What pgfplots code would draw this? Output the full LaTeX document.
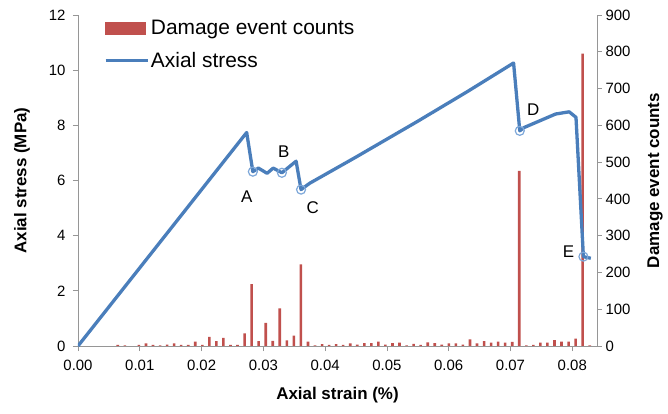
\documentclass[border=0pt]{standalone}
\usepackage{fontspec}
\setmainfont{Liberation Sans}
\usepackage{pgfplots}
\pgfplotsset{compat=1.18}
\usepackage{pgfplotstable}

\definecolor{barred}{HTML}{C0504D}
\definecolor{lineblue}{HTML}{4A7EBB}
\definecolor{circblue}{HTML}{7DA7D9}
\definecolor{axgray}{HTML}{969696}

\pgfplotstableread{
x y
0.00644 3
0.00758 2
0.00986 3
0.01100 7
0.01214 3
0.01328 2
0.01442 4
0.01556 7
0.01670 3
0.01784 3
0.01898 12
0.02012 3
0.02126 25
0.02240 13
0.02354 22
0.02468 3
0.02582 3
0.02696 34
0.02810 168
0.02924 13
0.03038 63
0.03152 14
0.03266 102
0.03380 15
0.03494 28
0.03608 222
0.03722 12
0.03836 2
0.03950 5
0.04064 3
0.04178 5
0.04292 3
0.04406 7
0.04520 4
0.04634 8
0.04748 8
0.04862 12
0.04976 4
0.05090 8
0.05204 9
0.05318 2
0.05432 6
0.05546 3
0.05660 10
0.05774 8
0.05888 4
0.06002 7
0.06116 7
0.06230 4
0.06344 18
0.06458 7
0.06572 13
0.06686 9
0.06800 12
0.06914 9
0.07028 11
0.07142 476
0.07256 2
0.07370 3
0.07484 9
0.07598 9
0.07712 16
0.07826 12
0.07940 12
0.08054 20
0.08168 795
0.08282 2
}\bars

\pgfplotstableread{
x y
0 0
0.0273 7.74
0.0283 6.32
0.0292 6.45
0.0306 6.26
0.0316 6.45
0.0330 6.28
0.0353 6.70
0.0361 5.67
0.0375 5.90
0.0450 6.85
0.0550 8.15
0.0630 9.22
0.0705 10.26
0.0715 7.80
0.0722 7.92
0.0773 8.41
0.0795 8.49
0.0806 8.29
0.0818 3.24
0.0830 3.18
}\stress

\pgfplotstableread{
x y
0.0283 6.32
0.0330 6.28
0.0361 5.67
0.0715 7.80
0.0818 3.24
}\points

\pgfplotsset{
  common/.style={
    width=519bp, height=331bp, scale only axis,
    at={(0,0)}, anchor=south west,
    xmin=0, xmax=0.0840,
    tick align=outside,
    major tick length=5bp,
    every tick/.style={axgray, line width=0.8bp},
    axis line style={axgray, line width=0.8bp},
    tick label style={font=\fontsize{15}{15}\selectfont, black},
    label style={font=\bfseries\fontsize{17}{17}\selectfont},
    /pgf/number format/assume math mode=true,
  }
}

\begin{document}
\begin{tikzpicture}
\begin{axis}[common, ybar, bar width=2.6bp,
  ymin=0, ymax=900, ytick={0,100,200,300,400,500,600,700,800,900},
  axis y line*=right, axis x line=none,
  ylabel={Damage event counts},
  ylabel style={at={(axis description cs:1.112,0.5)}, anchor=center},
]
\addplot[fill=barred, draw=none, bar shift=0pt] table {\bars};
\end{axis}
\begin{axis}[common,
  ymin=0, ymax=12, ytick={0,2,4,6,8,10,12},
  axis y line*=left, axis x line*=bottom,
  xtick={0,0.01,0.02,0.03,0.04,0.05,0.06,0.07,0.08},
  scaled x ticks=false,
  xticklabel style={yshift=-6bp, /pgf/number format/.cd, fixed, fixed zerofill, precision=2},
  yticklabel style={xshift=-4bp},
  xlabel={Axial strain (\%)},
  ylabel={Axial stress (MPa)},
  xlabel style={at={(axis description cs:0.5,-0.148)}, anchor=center},
  ylabel style={at={(axis description cs:-0.108,0.5)}, anchor=center},
  legend style={at={(axis description cs:0.05,0.99)}, anchor=north west,
    draw=none, fill=none, font=\fontsize{21}{21}\selectfont,
    row sep=12bp, inner sep=0pt},
  legend cell align=left,
]
\addlegendimage{legend image code/.code={\fill[barred] (0bp,-6bp) rectangle (40bp,6bp);}}
\addlegendentry{Damage event counts}
\addplot[lineblue, line width=3.3bp, line join=round, mark=none,
  legend image code/.code={\draw[lineblue, line width=2.8bp] (0bp,0bp) -- (42bp,0bp);}] table {\stress};
\addlegendentry{Axial stress}
\addplot[only marks, mark=o, mark size=4.5bp, forget plot,
  mark options={circblue, line width=1.2bp}] table {\points};
\node[font=\fontsize{17}{17}\selectfont] at (axis cs:0.0273,5.41) {A};
\node[font=\fontsize{17}{17}\selectfont] at (axis cs:0.0333,7.04) {B};
\node[font=\fontsize{17}{17}\selectfont] at (axis cs:0.0380,5.00) {C};
\node[font=\fontsize{17}{17}\selectfont] at (axis cs:0.0737,8.55) {D};
\node[font=\fontsize{17}{17}\selectfont] at (axis cs:0.0794,3.42) {E};
\end{axis}
\pgfresetboundingbox
\path[use as bounding box] (-78bp,-68bp) rectangle (590bp,346bp);
\end{tikzpicture}
\end{document}
